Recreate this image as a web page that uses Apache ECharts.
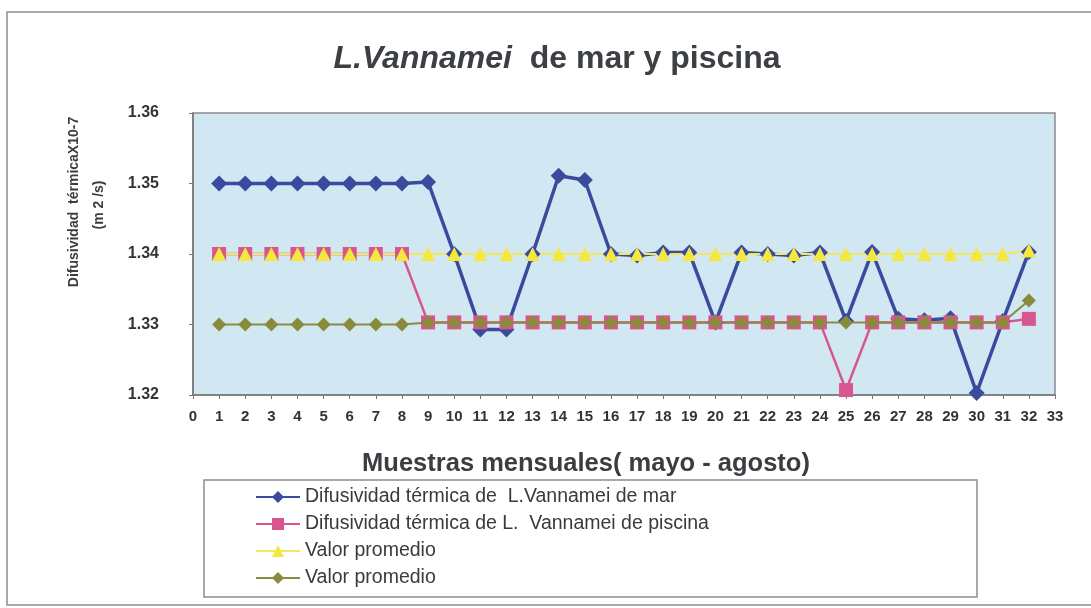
<!DOCTYPE html>
<html>
<head>
<meta charset="utf-8">
<script src="https://cdn.jsdelivr.net/npm/echarts@6/dist/echarts.min.js"></script>
<style>html,body{margin:0;padding:0;background:#fff}#c{width:1091px;height:608px}</style>
</head>
<body>
<div id="c"></div>
<script>
// Data
const samples = [1,2,3,4,5,6,7,8,9,10,11,12,13,14,15,16,17,18,19,20,21,22,23,24,25,26,27,28,29,30,31,32];
const marValues = [1.35,1.35,1.35,1.35,1.35,1.35,1.35,1.35,1.3502,1.34,1.3293,1.3293,1.34,1.3511,1.3505,1.34,1.3398,1.3402,1.3402,1.3303,1.3402,1.34,1.3398,1.3402,1.3305,1.3403,1.3308,1.3306,1.3309,1.3203,1.3305,1.3403];
const piscinaValues = [1.34,1.34,1.34,1.34,1.34,1.34,1.34,1.34,1.3303,1.3303,1.3303,1.3303,1.3303,1.3303,1.3303,1.3303,1.3303,1.3303,1.3303,1.3303,1.3303,1.3303,1.3303,1.3303,1.3207,1.3303,1.3303,1.3303,1.3303,1.3303,1.3303,1.3308];
const promedioMar = [1.34,1.34,1.34,1.34,1.34,1.34,1.34,1.34,1.34,1.34,1.34,1.34,1.34,1.34,1.34,1.34,1.34,1.34,1.34,1.34,1.34,1.34,1.34,1.34,1.34,1.34,1.34,1.34,1.34,1.34,1.34,1.3405];
const promedioPiscina = [1.33,1.33,1.33,1.33,1.33,1.33,1.33,1.33,1.3303,1.3303,1.3303,1.3303,1.3303,1.3303,1.3303,1.3303,1.3303,1.3303,1.3303,1.3303,1.3303,1.3303,1.3303,1.3303,1.3303,1.3303,1.3303,1.3303,1.3303,1.3303,1.3303,1.3334];
const seriesNames = ['Difusividad térmica de  L.Vannamei de mar','Difusividad térmica de L.  Vannamei de piscina','Valor promedio','Valor promedio '];
const xAxisTitle = 'Muestras mensuales( mayo - agosto)';
const yAxisTitle = ['Difusividad  térmicaX10-7','(m 2 /s)'];

const pair = (vals) => samples.map((x,i)=>[x, vals[i]]);
const chart = echarts.init(document.getElementById('c'));
const font = 'Liberation Sans, Arial, sans-serif';
chart.setOption({
  backgroundColor:'#fff',
  animation:false,
  title:{
    text:'{i|L.Vannamei}{b|  de mar y piscina}',
    left:552, top:38, textAlign:'center',
    textStyle:{rich:{
      i:{fontFamily:font,fontSize:32,fontWeight:'bold',fontStyle:'italic',color:'#3c4045'},
      b:{fontFamily:font,fontSize:32,fontWeight:'bold',color:'#3c4045'}
    }}
  },
  grid:{left:193,right:36,top:113,bottom:213,show:true,backgroundColor:'#d1e8f2',borderColor:'#8a8a8a',borderWidth:1.5},
  xAxis:{
    type:'value',min:0,max:33,interval:1,
    axisLine:{lineStyle:{color:'#777',width:1.5}},
    axisTick:{show:true,length:4,lineStyle:{color:'#777'}},
    axisLabel:{fontFamily:font,fontSize:15,fontWeight:'bold',color:'#333',margin:14},
    splitLine:{show:false}
  },
  yAxis:{
    type:'value',min:1.32,max:1.36,interval:0.01,
    axisLine:{show:true,lineStyle:{color:'#777',width:1.5}},
    axisTick:{show:true,length:4,lineStyle:{color:'#777'}},
    axisLabel:{fontFamily:font,fontSize:16,fontWeight:'bold',color:'#333',margin:34,formatter:v=>v.toFixed(2)},
    splitLine:{show:false}
  },
  legend:{
    orient:'vertical',left:250,top:482,itemWidth:44,itemHeight:15,itemGap:7,
    textStyle:{fontFamily:font,fontSize:19.5,color:'#3a3a3a',lineHeight:20},
    data:seriesNames
  },
  graphic:[
    {type:'rect',shape:{x:7,y:12,width:1100,height:593},style:{fill:'none',stroke:'#8f8c92',lineWidth:1.5},silent:true,z:-10},
    {type:'rect',shape:{x:204,y:480,width:773,height:117},style:{fill:'none',stroke:'#8f8c92',lineWidth:1.5},silent:true},
    {type:'text',x:586,y:464,style:{text:xAxisTitle,fontFamily:font,fontSize:25.5,fontWeight:'bold',fill:'#3a3d42',align:'center',verticalAlign:'middle'}},
    {type:'text',x:74,y:202,rotation:Math.PI/2,style:{text:yAxisTitle[0],fontFamily:font,fontSize:14,fontWeight:'bold',fill:'#3a3d42',align:'center',verticalAlign:'middle'}},
    {type:'text',x:99,y:205,rotation:Math.PI/2,style:{text:yAxisTitle[1],fontFamily:font,fontSize:14,fontWeight:'bold',fill:'#3a3d42',align:'center',verticalAlign:'middle'}}
  ],
  series:[
    {name:seriesNames[0],type:'line',data:pair(marValues),symbol:'diamond',symbolSize:16,
      lineStyle:{color:'#3a4a9c',width:3.5},itemStyle:{color:'#3a4a9c'}},
    {name:seriesNames[1],type:'line',data:pair(piscinaValues),symbol:'rect',symbolSize:14,
      lineStyle:{color:'#d8558e',width:2.5},itemStyle:{color:'#d8558e'}},
    {name:seriesNames[2],type:'line',data:pair(promedioMar),symbol:'triangle',symbolSize:14,
      lineStyle:{color:'#f3e85a',width:2},itemStyle:{color:'#f5e83c'}},
    {name:seriesNames[3],type:'line',data:pair(promedioPiscina),symbol:'diamond',symbolSize:14,
      lineStyle:{color:'#8c8c40',width:2},itemStyle:{color:'#8a8a3c'}}
  ]
});
</script>
</body>
</html>
